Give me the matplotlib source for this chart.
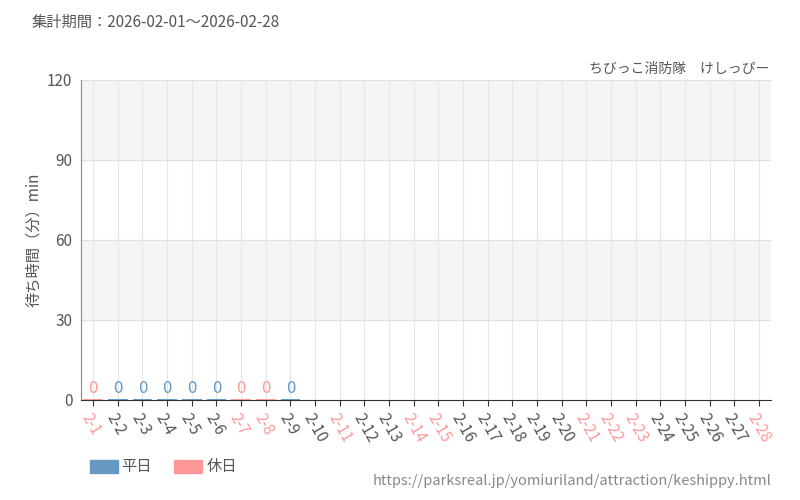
import matplotlib
matplotlib.use("Agg")
import matplotlib.pyplot as plt

plt.rcParams['font.family'] = ['Noto Sans CJK JP', 'DejaVu Sans']

days = list(range(1, 29))
labels = [f"2-{d}" for d in days]
holidays = [1, 7, 8, 11, 14, 15, 21, 22, 23, 28]
values = [0, 0, 0, 0, 0, 0, 0, 0, 0]  # 2-1 .. 2-9

WK = '#6699c2'
HO = '#ff9999'
TXT = '#555555'

fig = plt.figure(figsize=(8, 5), dpi=100)
ax = fig.add_axes([0.101, 0.2, 0.863, 0.64])
ax.set_xlim(-0.5, 27.5)
ax.set_ylim(0, 120)
ax.axhspan(90, 120, color='#f5f5f5', zorder=0)
ax.axhspan(30, 60, color='#f5f5f5', zorder=0)
for y in [30, 60, 90, 120]:
    ax.axhline(y, color='#e0e0e0', lw=0.8, zorder=1)
for i in range(28):
    ax.axvline(i, color='#e6e6e6', lw=0.8, zorder=1)

for i, v in enumerate(values):
    c = HO if days[i] in holidays else WK
    ax.bar(i, max(v, 0.4), width=0.8, color=c, zorder=3)
    ax.text(i, v + 1, str(v), ha='center', va='bottom', color=c, fontsize=12, zorder=4)

ax.set_yticks([0, 30, 60, 90, 120])
ax.tick_params(axis='y', length=0, labelsize=11, colors=TXT, pad=6)
ax.set_xticks(range(28))
ax.set_xticklabels(labels, rotation=-60, ha='left', rotation_mode='anchor', fontsize=11)
for t, d in zip(ax.get_xticklabels(), days):
    t.set_color(HO if d in holidays else TXT)
ax.tick_params(axis='x', length=4, color='#333333')
for s in ['top', 'right']:
    ax.spines[s].set_visible(False)
ax.spines['left'].set_color('#888888')
ax.spines['bottom'].set_color('#333333')
ax.set_ylabel('待ち時間（分）min', color=TXT, fontsize=11)

fig.text(0.04, 0.955, '集計期間：2026-02-01～2026-02-28', color=TXT, fontsize=11, va='center')
fig.text(0.962, 0.862, 'ちびっこ消防隊　けしっぴー', color=TXT, fontsize=10, ha='right', va='center')
fig.text(0.965, 0.037, 'https://parksreal.jp/yomiuriland/attraction/keshippy.html', color='#888888', fontsize=10.5, ha='right', va='center')

fig.patches.append(plt.Rectangle((0.112, 0.055), 0.035, 0.025, color=WK, transform=fig.transFigure))
fig.text(0.152, 0.067, '平日', color=TXT, fontsize=11, va='center')
fig.patches.append(plt.Rectangle((0.218, 0.055), 0.035, 0.025, color=HO, transform=fig.transFigure))
fig.text(0.258, 0.067, '休日', color=TXT, fontsize=11, va='center')

fig.savefig('out.png', dpi=100)
